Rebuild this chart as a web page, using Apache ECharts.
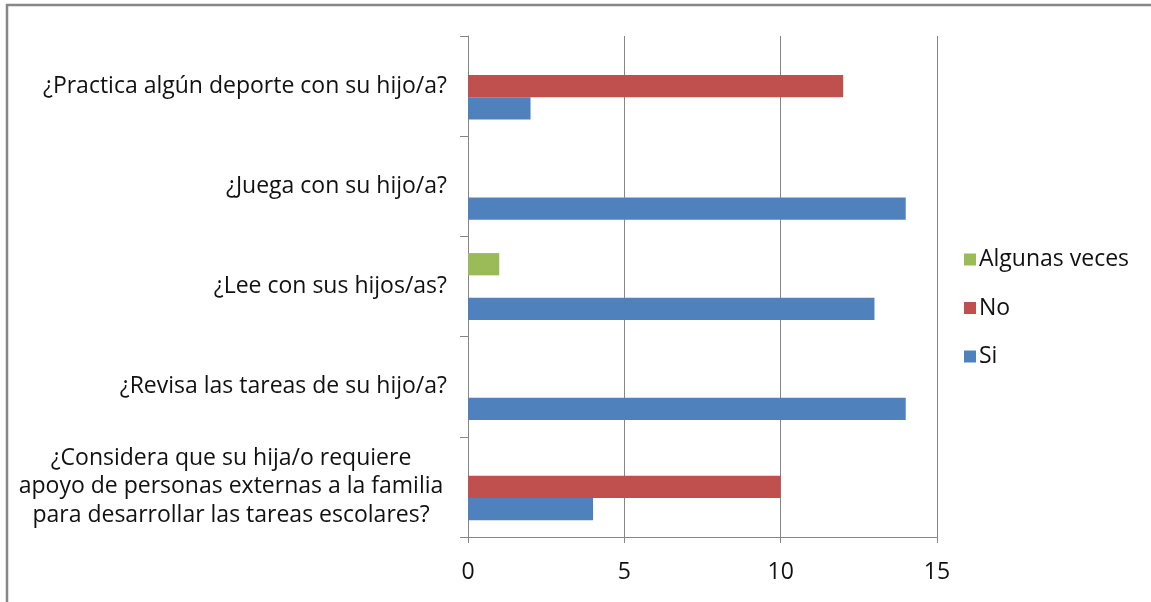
<!DOCTYPE html>
<html>
<head>
<meta charset="utf-8">
<script src="https://cdn.jsdelivr.net/npm/echarts@6/dist/echarts.min.js"></script>
<style>
html,body{margin:0;padding:0;background:#fff;}
#c{width:1151px;height:602px;}
</style>
</head>
<body>
<div id="c"></div>
<script>
const categories = [
  "¿Practica algún deporte con su hijo/a?",
  "¿Juega con su hijo/a?",
  "¿Lee con sus hijos/as?",
  "¿Revisa las tareas de su hijo/a?",
  "¿Considera que su hija/o requiere\napoyo de personas externas a la familia\npara desarrollar las tareas escolares?"
];
const seriesNames = ["Algunas veces", "No", "Si"];
const algunasVeces = [0, 0, 1, 0, 0];
const noValues = [12, 0, 0, 0, 10];
const siValues = [2, 14, 13, 14, 4];
const xTicks = [0, 5, 10, 15];

const FONT = "Open Sans";
const FS = 23;
const TXT = '#111111';
const chart = echarts.init(document.getElementById('c'));
const colors = ['#9BBB59', '#C0504D', '#4F81BD'];

chart.setOption({
  animation: false,
  textStyle: { fontFamily: FONT },
  graphic: [{
    type: 'rect', silent: true,
    shape: { x: 7, y: 5, width: 1300, height: 800 },
    style: { fill: 'none', stroke: '#878787', lineWidth: 2.5 }
  }],
  grid: { left: 468, right: 214, top: 36, bottom: 65, containLabel: false },
  legend: {
    orient: 'vertical', left: 959, top: 243,
    itemWidth: 12, itemHeight: 12, itemGap: 25.5, icon: 'rect',
    data: seriesNames,
    textStyle: { fontFamily: FONT, fontSize: FS, color: TXT, padding: [0, 0, 0, -2] }
  },
  xAxis: {
    type: 'value', min: xTicks[0], max: xTicks[xTicks.length - 1], interval: 5,
    axisLine: { show: true, lineStyle: { color: '#868686', width: 1 } },
    axisTick: { show: true, length: 6, lineStyle: { color: '#868686' } },
    splitLine: { show: true, lineStyle: { color: '#868686', width: 1 } },
    axisLabel: { fontFamily: FONT, fontSize: FS, color: TXT, margin: 24 }
  },
  yAxis: {
    type: 'category', inverse: true, data: categories,
    axisLine: { show: true, lineStyle: { color: '#868686', width: 1 } },
    axisTick: { show: true, length: 8, lineStyle: { color: '#868686' } },
    axisLabel: {
      fontFamily: FONT, fontSize: FS, color: TXT, margin: 21, lineHeight: 28.5,
      formatter: function (v) {
        if (v.indexOf('\n') >= 0) {
          return v.split('\n').map(s => '{c|' + s + '}').join('\n');
        }
        return v;
      },
      rich: {
        c: { width: 432, align: 'center', fontFamily: FONT, fontSize: FS, color: TXT, lineHeight: 28.5 }
      }
    }
  },
  series: [
    { name: seriesNames[0], type: 'bar', data: algunasVeces, itemStyle: { color: colors[0] }, barGap: '0%', barCategoryGap: '33.3%' },
    { name: seriesNames[1], type: 'bar', data: noValues, itemStyle: { color: colors[1] }, barGap: '0%', barCategoryGap: '33.3%' },
    { name: seriesNames[2], type: 'bar', data: siValues, itemStyle: { color: colors[2] }, barGap: '0%', barCategoryGap: '33.3%' }
  ]
});
</script>
</body>
</html>
